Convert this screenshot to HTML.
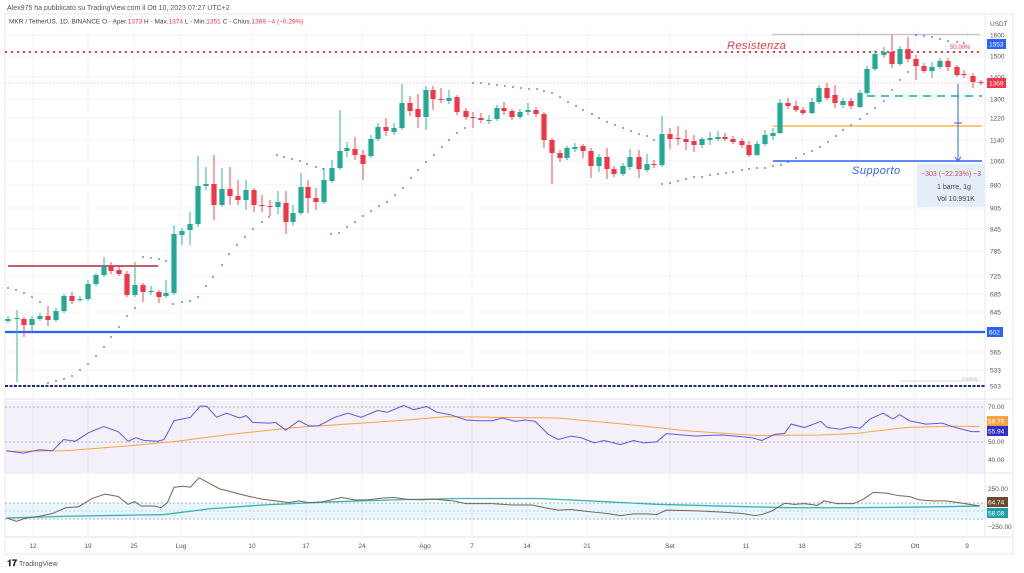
<!DOCTYPE html>
<html><head><meta charset="utf-8"><style>
html,body{margin:0;padding:0;background:#fff;width:1024px;height:573px;overflow:hidden;font-family:"Liberation Sans",sans-serif}
</style></head><body>
<svg id="s" width="1024" height="573" xmlns="http://www.w3.org/2000/svg" font-family="Liberation Sans, sans-serif">
<rect width="1024" height="573" fill="#fff"/>
<text x="7" y="10" font-size="7" fill="#555">Alex975 ha pubblicato su TradingView.com il Ott 10, 2023 07:27 UTC+2</text>
<text x="9" y="23.5" font-size="6.5" fill="#444">MKR / TetherUS, 1D, BINANCE  O - Aper.<tspan fill="#f23645">1373</tspan>  H - Max.<tspan fill="#f23645">1374</tspan>  L - Min.<tspan fill="#f23645">1351</tspan>  C - Chius.<tspan fill="#f23645">1369  −4 (−0.29%)</tspan></text>
<!-- frame -->
<rect x="5" y="14" width="1008" height="540" fill="none" stroke="#e6e8ee" stroke-width="1"/>
<line x1="985" y1="14" x2="985" y2="537" stroke="#e6e8ee"/>
<line x1="5" y1="399" x2="1013" y2="399" stroke="#e0e3eb"/>
<line x1="5" y1="473" x2="1013" y2="473" stroke="#e0e3eb"/>
<line x1="5" y1="537" x2="1013" y2="537" stroke="#e0e3eb"/>
<g id="grid" stroke="#f1f3f8" stroke-width="1"></g>
<!-- RSI band -->
<rect x="5" y="401" width="980" height="71" fill="#7e57c2" fill-opacity="0.09"/>
<line x1="5" y1="407" x2="985" y2="407" stroke="#999" stroke-dasharray="2,2" stroke-width="0.8"/>
<line x1="5" y1="442" x2="985" y2="442" stroke="#999" stroke-dasharray="2,2" stroke-width="0.8"/>
<!-- CCI band -->
<rect x="5" y="503" width="980" height="16" fill="#21a6f3" fill-opacity="0.1"/>
<line x1="5" y1="503" x2="985" y2="503" stroke="#999" stroke-dasharray="2,2" stroke-width="0.8"/>
<line x1="5" y1="511" x2="985" y2="511" stroke="#aaa" stroke-dasharray="2,2" stroke-width="0.6"/>
<line x1="5" y1="519" x2="985" y2="519" stroke="#999" stroke-dasharray="2,2" stroke-width="0.8"/>
<!-- horizontal drawing lines -->
<line x1="772" y1="34.5" x2="980" y2="34.5" stroke="#c8c8c8" stroke-width="1.5"/>
<line x1="5" y1="52" x2="982" y2="52" stroke="#f23645" stroke-width="2" stroke-dasharray="2,4"/>
<line x1="5" y1="83" x2="985" y2="83" stroke="#f7a6ad" stroke-width="0.8" stroke-dasharray="1,2"/>
<line x1="867" y1="96" x2="982" y2="96" stroke="#4cc4c6" stroke-width="2" stroke-dasharray="8,6"/>
<line x1="773" y1="126" x2="982" y2="126" stroke="#ffb74d" stroke-width="1.5"/>
<line x1="773" y1="161" x2="982" y2="161" stroke="#2962ff" stroke-width="1.5"/>
<line x1="8" y1="266" x2="158" y2="266" stroke="#b22833" stroke-width="1.5"/>
<line x1="5" y1="332" x2="985" y2="332" stroke="#2962ff" stroke-width="2.2"/>
<line x1="900" y1="381" x2="980" y2="381" stroke="#ccc" stroke-width="0.8"/>
<text x="962" y="380" font-size="4" fill="#aaa">0.2(503)</text>
<line x1="5" y1="386" x2="985" y2="386" stroke="#1a2a80" stroke-width="2" stroke-dasharray="3,1.5"/>
<text x="727" y="49" font-size="11" font-style="italic" fill="#f23645" letter-spacing="0.5">Resistenza</text>
<text x="950" y="49" font-size="6" fill="#f23645">50.00%</text>
<text x="852" y="174" font-size="11" font-style="italic" fill="#2962ff" letter-spacing="0.5">Supporto</text>
<g id="sar" fill="#5b5bd6"></g>
<g id="candles"></g>
<!-- measure -->
<line x1="958" y1="84" x2="958" y2="160" stroke="#2962ff" stroke-width="1"/>
<path d="M955,157 L958,161 L961,157" fill="none" stroke="#2962ff" stroke-width="1"/>
<line x1="954" y1="123" x2="962" y2="123" stroke="#2962ff" stroke-width="1"/>
<rect x="917" y="164" width="68" height="43" fill="#e3eef8"/>
<text x="921" y="176" font-size="7" fill="#d9485a">−303 (−22.23%) −3</text>
<text x="937" y="189" font-size="7" fill="#444">1 barre, 1g</text>
<text x="937" y="201" font-size="7" fill="#444">Vol 10.991K</text>
<!-- indicator lines -->
<g transform="translate(0,390) scale(0.6566,0.3413)">
<polyline id="rsima" fill="none" stroke="#f5a442" stroke-width="1" vector-effect="non-scaling-stroke"/>
<polyline id="rsi" fill="none" stroke="#6158e0" stroke-width="1" vector-effect="non-scaling-stroke"/>
<polyline id="ccima" fill="none" stroke="#3bb3b6" stroke-width="1.3" vector-effect="non-scaling-stroke"/>
<polyline id="cci" fill="none" stroke="#7a6350" stroke-width="1" vector-effect="non-scaling-stroke"/>
</g>
<g id="axis" font-size="6.5" fill="#555"></g>
<!-- price boxes -->
<rect x="987" y="39" width="19" height="10" fill="#2962ff"/><text x="989" y="46.5" font-size="6.5" fill="#fff">1553</text>
<rect x="987" y="78" width="19" height="10" fill="#f23645"/><text x="989" y="85.5" font-size="6.5" fill="#fff">1369</text>
<rect x="987" y="327" width="16" height="10" fill="#2962ff"/><text x="989" y="334.5" font-size="6.5" fill="#fff">602</text>
<rect x="987" y="416" width="21" height="10" fill="#f5a442"/><text x="988" y="423.5" font-size="6.5" fill="#fff">58.79</text>
<rect x="987" y="426" width="21" height="10" fill="#3030c8"/><text x="988" y="433.5" font-size="6.5" fill="#fff">55.94</text>
<rect x="987" y="497" width="21" height="10" fill="#6b4a2e"/><text x="988" y="504.5" font-size="6.5" fill="#fff">64.74</text>
<rect x="987" y="508" width="21" height="10" fill="#1fa0a8"/><text x="988" y="515.5" font-size="6.5" fill="#fff">58.08</text>
<text x="7" y="566" font-size="9" font-weight="bold" fill="#222">𝟏𝟕</text>
<text x="19" y="566" font-size="7" fill="#555">TradingView</text>
</svg>
<script>
var NS="http://www.w3.org/2000/svg";
function el(p,t,a,txt){var e=document.createElementNS(NS,t);for(var k in a)e.setAttribute(k,a[k]);if(txt!==undefined)e.textContent=txt;document.getElementById(p).appendChild(e);return e;}
// grid & axis
var vx=[33,88,134,181,252,306,362,425,472,527,587,670,746,802,858,915,967];
var vl=["12","19","25","Lug","10","17","24","Ago","7","14","21","Set","11","18","25","Ott","9"];
vx.forEach(function(x,i){el("grid","line",{x1:x,y1:30,x2:x,y2:537});el("axis","text",{x:x,y:548,"text-anchor":"middle"},vl[i]);});
var py=[[35,"1600"],[56,"1500"],[77,"1400"],[99,"1300"],[118,"1220"],[140,"1140"],[161,"1060"],[185,"980"],[208,"905"],[229,"845"],[251,"785"],[276,"725"],[294,"685"],[312,"645"],[352,"565"],[370,"533"],[386,"503"]];
py.forEach(function(p){el("grid","line",{x1:5,y1:p[0],x2:985,y2:p[0]});el("axis","text",{x:990,y:p[0]+2.3},p[1]);});
el("axis","text",{x:990,y:26},"USDT");
[[409,"70.00"],[444,"50.00"],[462,"40.00"],[491,"250.00"],[529,"−250.00"]].forEach(function(p){el("axis","text",{x:988,y:p[0]},p[1]);});
// candles [x,top,bot,color,hi,lo]
var C=[[8,319,321,'g',316,323],[17,318,319,'g',310,382],[24,319,325,'r',317,337],[32,319,325,'g',316,331],[40,316,319,'g',313,321],[48,316,320,'r',306,326],[56,311,320,'g',308,322],[64,296,311,'g',294,313],[72,296,301,'r',292,304],[80,299,300,'g',296,302],[88,284,299,'g',280,301],[96,275,284,'g',273,286],[104,266,275,'g',257,277],[111,266,271,'r',262,274],[119,270,274,'r',266,276],[127,274,295,'r',271,297],[135,285,295,'g',262,297],[143,285,292,'r',283,302],[151,291,292,'g',286,295],[159,292,297,'r',290,303],[166,293,296,'g',280,298],[174,234,293,'g',225,295],[182,231,235,'g',228,245],[190,224,230,'g',212,245],[198,186,224,'g',156,227],[206,184,186,'g',167,190],[214,184,205,'r',155,220],[222,189,205,'g',168,207],[230,189,196,'r',167,205],[238,196,200,'r',180,205],[246,190,200,'g',180,210],[254,190,205,'r',188,212],[262,205,206,'r',195,212],[270,206,207,'r',200,216],[278,202,207,'g',191,214],[286,203,222,'r',191,234],[293,213,222,'g',205,226],[301,187,213,'g',173,215],[308,187,198,'r',180,213],[316,198,202,'r',188,210],[324,180,202,'g',168,204],[332,168,181,'g',160,183],[340,151,168,'g',110,170],[347,148,151,'g',142,157],[355,149,155,'r',137,160],[363,155,164,'r',150,180],[371,139,156,'g',135,158],[378,127,139,'g',123,141],[386,127,131,'r',118,136],[394,128,132,'g',123,135],[402,103,128,'g',84,130],[410,103,111,'r',96,116],[418,109,117,'r',94,128],[426,90,117,'g',86,130],[433,90,99,'r',86,110],[441,99,100,'r',88,103],[449,98,101,'g',90,104],[457,97,112,'r',95,115],[466,111,117,'r',108,120],[473,117,118,'r',112,128],[481,118,120,'r',113,123],[489,120,121,'g',115,124],[497,108,119,'g',105,121],[504,108,111,'r',102,115],[512,111,117,'r',109,120],[520,112,117,'g',109,119],[528,110,112,'g',103,115],[536,110,114,'r',107,117],[544,114,140,'r',112,148],[552,140,153,'r',138,184],[560,153,158,'r',150,162],[567,148,158,'g',146,160],[575,147,149,'g',143,152],[583,146,151,'r',144,158],[591,151,166,'r',148,178],[599,157,166,'g',154,172],[607,157,169,'r',148,179],[614,169,174,'r',166,177],[623,166,174,'g',163,176],[630,157,167,'g',149,170],[639,157,169,'r',150,178],[647,164,170,'g',154,172],[654,164,165,'r',160,168],[662,134,165,'g',116,167],[670,134,139,'r',128,149],[678,138,139,'r',126,145],[686,139,142,'r',130,150],[694,141,145,'r',135,152],[702,139,145,'g',137,148],[710,138,140,'g',132,145],[718,137,139,'g',131,141],[725,137,139,'r',133,141],[733,139,142,'r',136,144],[742,141,145,'r',138,148],[749,145,155,'r',141,157],[757,144,155,'g',141,156],[765,135,144,'g',130,146],[773,133,136,'g',128,140],[780,103,133,'g',99,134],[788,103,106,'r',98,109],[796,106,110,'r',101,112],[803,110,113,'r',107,115],[812,102,113,'g',98,114],[819,88,102,'g',85,104],[827,88,98,'r',83,100],[835,95,103,'r',85,108],[843,101,105,'g',98,108],[851,101,106,'r',98,109],[860,93,107,'g',90,108],[867,69,93,'g',66,95],[875,54,69,'g',50,71],[884,52,55,'g',47,58],[892,52,64,'r',35,68],[900,49,64,'g',46,66],[908,49,59,'r',37,62],[916,59,66,'r',55,80],[924,66,71,'r',63,73],[932,67,71,'g',62,78],[940,61,67,'g',58,69],[948,61,67,'r',58,71],[957,67,75,'r',65,77],[964,74,75,'r',70,78],[973,76,82,'r',73,88],[981,82,83,'r',80,85]];
C.forEach(function(c){var col=c[3]=='g'?'#22ab94':'#f23645';
el("candles","line",{x1:c[0],y1:c[4],x2:c[0],y2:c[5],stroke:col,"stroke-width":0.9});
el("candles","rect",{x:c[0]-2.6,y:c[1],width:5.2,height:Math.max(1,c[2]-c[1]),fill:col});});
// SAR
var S=[[8,288],[16,290],[24,293],[32,297],[40,302],[48,383],[56,381],[64,379],[72,376],[80,370],[88,364],[96,356],[104,347],[111,337],[119,327],[127,316],[135,308],[143,257],[151,258],[159,259],[166,261],[173,304],[182,302],[190,301],[198,297],[206,286],[213,277],[222,265],[229,254],[237,245],[245,237],[253,229],[262,222],[269,217],[277,155],[284,157],[292,159],[300,161],[307,164],[316,167],[323,169],[331,234],[339,233],[347,227],[355,222],[363,216],[371,211],[379,206],[387,202],[395,195],[403,188],[411,178],[418,170],[426,162],[434,155],[442,147],[449,140],[457,133],[465,128],[473,83],[481,83],[489,84],[497,85],[505,86],[513,87],[521,88],[529,89],[537,89],[544,91],[552,93],[560,97],[568,102],[576,106],[583,110],[592,114],[599,118],[607,122],[615,125],[623,128],[631,131],[639,134],[647,136],[654,140],[662,184],[670,183],[678,181],[686,179],[694,177],[702,177],[710,175],[718,174],[726,173],[733,172],[742,170],[749,169],[757,168],[765,168],[773,166],[781,165],[788,162],[796,158],[804,154],[812,151],[820,147],[828,142],[836,136],[843,130],[851,125],[860,119],[867,114],[875,108],[884,101],[892,90],[900,80],[908,72],[916,63],[916,35],[924,36],[932,37],[940,39],[948,41],[957,42],[964,43]];
S.forEach(function(p){el("sar","circle",{cx:p[0],cy:p[1],r:0.9});});
function pl(id,a){document.getElementById(id).setAttribute("points",a.map(function(p){return p.join(",")}).join(" "));}
pl("rsi",[[10,178],[35,185],[60,175],[80,178],[97,145],[115,150],[135,125],[158,107],[180,122],[195,150],[207,140],[220,148],[240,150],[250,145],[265,90],[290,80],[305,47],[315,48],[330,80],[345,68],[365,82],[375,75],[385,95],[410,97],[420,95],[435,118],[455,90],[470,105],[485,105],[510,80],[530,68],[550,80],[575,60],[590,65],[615,45],[630,58],[650,48],[665,65],[685,72],[710,88],[730,90],[750,90],[765,82],[785,92],[800,88],[815,92],[835,130],[850,145],[870,135],[885,140],[905,155],[920,148],[945,160],[965,148],[980,155],[1000,152],[1015,128],[1040,132],[1060,135],[1080,133],[1100,132],[1120,135],[1145,140],[1160,148],[1180,130],[1195,127],[1205,100],[1225,110],[1250,92],[1260,110],[1280,115],[1295,108],[1310,112],[1325,85],[1345,68],[1360,85],[1370,72],[1385,90],[1410,100],[1435,97],[1455,110],[1480,122],[1492,122]]);
pl("rsima",[[10,180],[100,178],[200,163],[270,150],[350,130],[450,110],[550,97],[620,88],[680,78],[750,80],[850,82],[950,100],[1050,120],[1150,133],[1250,132],[1300,128],[1380,110],[1450,106],[1492,107]]);
pl("cci",[[10,375],[25,385],[40,375],[60,370],[80,362],[100,345],[120,342],[140,318],[160,305],[180,312],[195,335],[205,327],[215,340],[235,340],[245,345],[255,330],[265,285],[280,282],[290,285],[303,257],[320,275],[335,290],[350,297],[365,305],[380,312],[400,320],[420,325],[440,330],[455,325],[470,330],[490,328],[520,315],[540,322],[560,322],[580,317],[600,315],[620,320],[640,322],[660,320],[690,325],[710,333],[750,333],[780,337],[810,337],[830,345],[850,352],[870,350],[890,355],[905,358],[925,362],[945,368],[965,363],[985,363],[1000,365],[1015,352],[1040,353],[1070,355],[1100,358],[1130,362],[1150,368],[1160,365],[1175,355],[1195,332],[1210,335],[1225,333],[1245,338],[1255,325],[1275,333],[1300,333],[1315,320],[1330,300],[1350,302],[1370,310],[1385,312],[1400,322],[1420,325],[1440,325],[1460,330],[1492,340]]);
pl("ccima",[[10,375],[100,370],[250,365],[320,348],[400,337],[500,328],[600,322],[700,318],[820,318],[900,325],[1000,335],[1100,340],[1200,345],[1300,345],[1400,343],[1492,340]]);
</script>
</body></html>
